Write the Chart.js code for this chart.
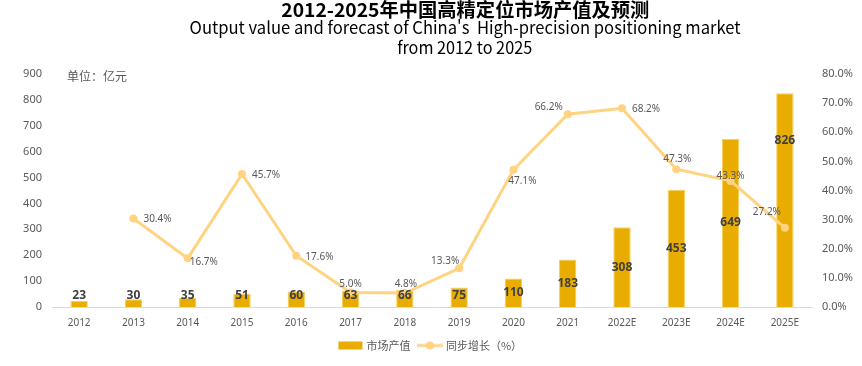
<!DOCTYPE html>
<html lang="zh">
<head>
    <meta charset="UTF-8">
    <title>2012-2025年中国高精定位市场产值及预测</title>
    <script src="https://cdn.jsdelivr.net/npm/chart.js@4.4.1/dist/chart.umd.min.js"></script>
    <style>
        html, body { margin: 0; padding: 0; background: #fff; }
        #wrap { position: relative; width: 862px; height: 366px; overflow: hidden; }
        .ttl { position: absolute; left: 34px; width: 862px; text-align: center; white-space: pre; color: #000;
               font-family: "Noto Sans CJK SC", "Noto Sans", sans-serif; line-height: 1.2; }
        .ttl span { display: inline-block; transform-origin: 50% 50%; }
        #t1 { top: -2px; font-size: 19px; font-weight: bold; }
        #t2 { top: 17px; font-size: 17px; }
        #t3 { top: 37px; font-size: 17px; }
        #unit { position: absolute; left: 67px; top: 67px; font-size: 12px; color: #595959;
                font-family: "Noto Sans CJK SC", sans-serif; }
        canvas { position: absolute; left: 0; top: 0; }
    </style>
</head>
<body>
<div id="wrap">
    <canvas id="myChart" width="862" height="366"></canvas>
    <div class="ttl" id="t1"><span data-w="368">2012-2025年中国高精定位市场产值及预测</span></div>
    <div class="ttl" id="t2"><span data-w="551">Output value and forecast of China's  High-precision positioning market</span></div>
    <div class="ttl" id="t3"><span data-w="135">from 2012 to 2025</span></div>
    <div id="unit">单位：亿元</div>
</div>

<script type="text/javascript">
    // data
    var years = ["2012", "2013", "2014", "2015", "2016", "2017", "2018", "2019", "2020", "2021", "2022E", "2023E", "2024E", "2025E"];
    var outputValue = [23, 30, 35, 51, 60, 63, 66, 75, 110, 183, 308, 453, 649, 826];
    var growthRate = [null, 30.4, 16.7, 45.7, 17.6, 5.0, 4.8, 13.3, 47.1, 66.2, 68.2, 47.3, 43.3, 27.2];
    var leftTicks = [0, 900, 100];
    var rightTicks = [0, 80, 10];

    // fit the title lines to the width they have in the original
    document.querySelectorAll('.ttl span').forEach(function (s) {
        var w = s.getBoundingClientRect().width;
        s.style.transform = 'scaleX(' + (parseFloat(s.dataset.w) / w) + ')';
    });

    var gold = '#E8AD00';
    var lineCol = '#FFD37F';
    var font = '"Noto Sans", "Noto Sans CJK SC", sans-serif';

    function swatch(kind) {
        var c = document.createElement('canvas');
        c.width = 26; c.height = 10;
        var g = c.getContext('2d');
        if (kind === 'bar') {
            g.fillStyle = gold;
            g.fillRect(1, 1, 24, 8);
        } else {
            g.strokeStyle = lineCol; g.lineWidth = 3;
            g.beginPath(); g.moveTo(0, 5); g.lineTo(26, 5); g.stroke();
            g.fillStyle = lineCol;
            g.beginPath(); g.arc(13, 5, 4, 0, Math.PI * 2); g.fill();
        }
        return c;
    }

    // where each growth label sits relative to its point: [dx, dy, align]
    var lineLabelPos = [null, [10, 1, 'left'], [2, 4, 'left'], [10, 1, 'left'], [9, 1, 'left'],
        [0, -8, 'center'], [1, -9, 'center'], [-14, -7, 'center'], [9, 11, 'center'], [-19, -7, 'center'],
        [10, 1, 'left'], [1, -10, 'center'], [0, -5, 'center'], [-18, -16, 'center']];

    var labelPlugin = {
        id: 'valueLabels',
        afterDatasetsDraw: function (chart) {
            var ctx = chart.ctx;
            ctx.save();
            ctx.textBaseline = 'middle';
            // bar values
            var bars = chart.getDatasetMeta(0).data;
            ctx.font = 'bold 12px ' + font;
            ctx.fillStyle = '#404040';
            ctx.textAlign = 'center';
            bars.forEach(function (b, i) {
                var y = Math.min((b.y + b.base) / 2, b.base - 11);
                if (i === bars.length - 1) y = b.y + 47;
                ctx.fillText(outputValue[i], b.x, y);
            });
            // growth values
            var pts = chart.getDatasetMeta(1).data;
            ctx.font = '10px ' + font;
            ctx.fillStyle = '#595959';
            pts.forEach(function (p, i) {
                if (growthRate[i] == null) return;
                var pos = lineLabelPos[i];
                ctx.textAlign = pos[2];
                ctx.fillText(growthRate[i].toFixed(1) + '%', p.x + pos[0], p.y + pos[1]);
            });
            ctx.restore();
        }
    };

    var ctx = document.getElementById('myChart').getContext('2d');
    var chart = new Chart(ctx, {
        type: 'bar',
        data: {
            labels: years,
            datasets: [{
                label: '市场产值',
                data: outputValue,
                backgroundColor: gold,
                borderColor: '#F7CF5A',
                borderWidth: 1,
                barPercentage: 0.32,
                categoryPercentage: 1,
                yAxisID: 'y',
                order: 2
            }, {
                type: 'line',
                label: '同步增长（%）',
                data: growthRate,
                borderColor: lineCol,
                backgroundColor: lineCol,
                borderWidth: 3,
                pointRadius: 4,
                pointBackgroundColor: lineCol,
                pointBorderWidth: 0,
                tension: 0,
                spanGaps: false,
                yAxisID: 'y1',
                order: 1
            }]
        },
        options: {
            responsive: false,
            animation: false,
            layout: { padding: { top: 74, bottom: 5, left: 0, right: 0 } },
            plugins: {
                title: { display: false },
                tooltip: { enabled: false },
                legend: {
                    position: 'bottom',
                    labels: {
                        usePointStyle: true,
                        pointStyleWidth: 21,
                        boxHeight: 10,
                        padding: 9,
                        color: '#595959',
                        font: { size: 11, family: '"Noto Sans CJK SC", sans-serif' },
                        generateLabels: function (c) {
                            return c.data.datasets.map(function (d, i) {
                                return {
                                    text: d.label,
                                    pointStyle: swatch(i === 0 ? 'bar' : 'line'),
                                    fillStyle: 'transparent',
                                    strokeStyle: 'transparent',
                                    lineWidth: 0,
                                    fontColor: '#595959',
                                    datasetIndex: i
                                };
                            });
                        }
                    }
                }
            },
            scales: {
                x: {
                    grid: { display: false, drawTicks: false },
                    border: { display: true, color: '#D9D9D9', width: 1 },
                    ticks: { color: '#595959', font: { size: 10, family: font }, padding: 10, maxRotation: 0, autoSkip: false },
                    afterFit: function (a) { a.height = 24; }
                },
                y: {
                    position: 'left',
                    min: leftTicks[0], max: leftTicks[1],
                    grid: { display: false, drawTicks: false },
                    border: { display: false },
                    ticks: { stepSize: leftTicks[2], color: '#595959', font: { size: 11, family: font }, padding: 10 },
                    afterFit: function (a) { a.width = 52; }
                },
                y1: {
                    position: 'right',
                    min: rightTicks[0], max: rightTicks[1],
                    grid: { display: false, drawTicks: false },
                    border: { display: false },
                    ticks: {
                        stepSize: rightTicks[2], color: '#595959', font: { size: 11, family: font }, padding: 10,
                        callback: function (v) { return v.toFixed(1) + '%'; }
                    },
                    afterFit: function (a) { a.width = 50; }
                }
            }
        },
        plugins: [labelPlugin]
    });
</script>
</body>
</html>
